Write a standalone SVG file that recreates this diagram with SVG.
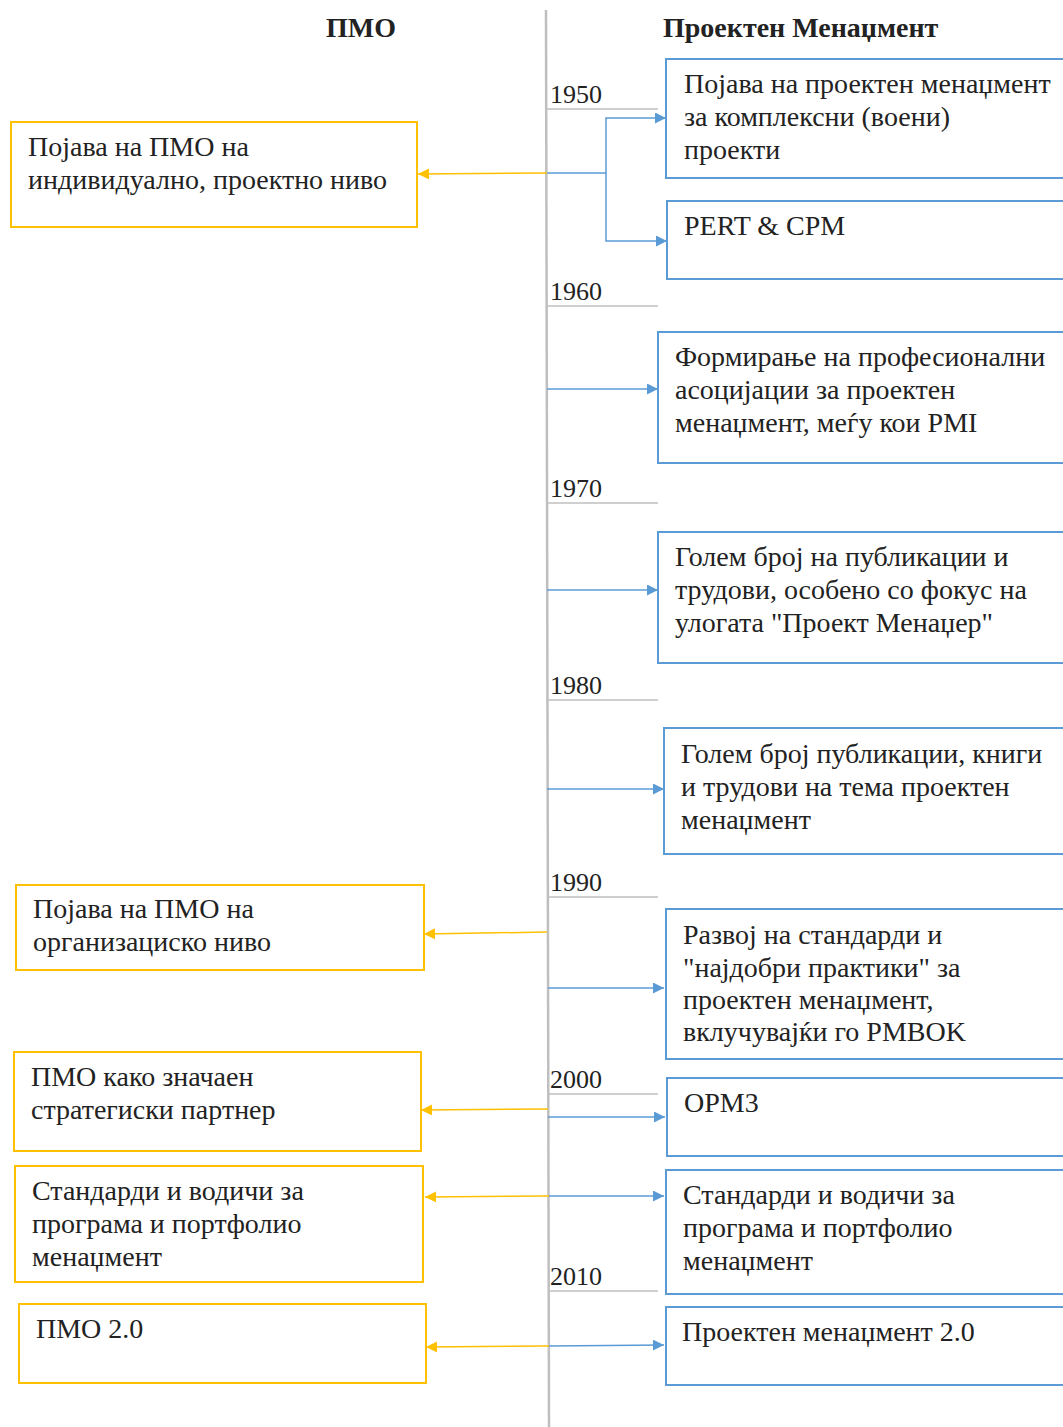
<svg xmlns="http://www.w3.org/2000/svg" width="1063" height="1427" viewBox="0 0 1063 1427">
<defs>
<marker id="ab" viewBox="0 0 10 10" refX="10" refY="5" markerWidth="11" markerHeight="11" markerUnits="userSpaceOnUse" orient="auto"><path d="M0,0 L10,5 L0,10 z" fill="#5b9bd5"/></marker>
<marker id="ay" viewBox="0 0 10 10" refX="10" refY="5" markerWidth="11" markerHeight="11" markerUnits="userSpaceOnUse" orient="auto"><path d="M0,0 L10,5 L0,10 z" fill="#ffc000"/></marker>
</defs>
<style>
text{font-family:"Liberation Serif","Times New Roman",serif;font-size:28px;fill:#222}
.h{font-weight:bold;font-size:28px}
.yr{font-size:26px}
.bb{fill:#fff;stroke:#5b9bd5;stroke-width:2}
.yb{fill:#fff;stroke:#ffc000;stroke-width:2}
.bl{stroke:#5b9bd5;stroke-width:1.5;fill:none;marker-end:url(#ab)}
.yl{stroke:#ffc000;stroke-width:1.5;fill:none;marker-end:url(#ay)}
.tk{stroke:#bfbfbf;stroke-width:1.5}
</style>
<rect width="1063" height="1427" fill="#fff"/>
<g id="timeline">
<line x1="546" y1="10" x2="549" y2="1427" stroke="#bfbfbf" stroke-width="2.5"/>
<line class="tk" x1="547" y1="109" x2="658" y2="109"/>
<line class="tk" x1="547" y1="306" x2="658" y2="306"/>
<line class="tk" x1="547" y1="503" x2="658" y2="503"/>
<line class="tk" x1="547" y1="700" x2="658" y2="700"/>
<line class="tk" x1="548" y1="897" x2="658" y2="897"/>
<line class="tk" x1="548" y1="1094" x2="658" y2="1094"/>
<line class="tk" x1="548" y1="1291" x2="658" y2="1291"/>
<text class="yr" x="550" y="103">1950</text>
<text class="yr" x="550" y="300">1960</text>
<text class="yr" x="550" y="497">1970</text>
<text class="yr" x="550" y="694">1980</text>
<text class="yr" x="550" y="891">1990</text>
<text class="yr" x="550" y="1088">2000</text>
<text class="yr" x="550" y="1285">2010</text>
</g>
<g id="headers">
<text class="h" x="361" y="37" text-anchor="middle">ПМО</text>
<text class="h" x="663" y="37">Проектен Менаџмент</text>
</g>
<g id="connectors">
<polyline class="bl" points="547,173 606,173 606,118 666,118"/>
<polyline class="bl" points="606,173 606,241 667,241"/>
<line class="yl" x1="547" y1="173" x2="418" y2="174"/>
<line class="bl" x1="547" y1="389" x2="658" y2="389"/>
<line class="bl" x1="547" y1="590" x2="658" y2="590"/>
<line class="bl" x1="547" y1="789" x2="664" y2="789"/>
<line class="yl" x1="547" y1="932" x2="424" y2="934"/>
<line class="bl" x1="548" y1="988" x2="664" y2="988"/>
<line class="yl" x1="548" y1="1109" x2="421" y2="1110"/>
<line class="bl" x1="548" y1="1117" x2="665" y2="1117"/>
<line class="yl" x1="549" y1="1196" x2="425" y2="1197"/>
<line class="bl" x1="549" y1="1196" x2="664" y2="1196"/>
<line class="yl" x1="549" y1="1346" x2="426" y2="1347"/>
<line class="bl" x1="549" y1="1346" x2="664" y2="1345"/>
</g>
<g id="r1"><rect class="bb" x="666" y="59" width="410" height="119"/>
<text x="684" y="93">Појава на проектен менаџмент</text><text x="684" y="126">за комплексни (воени)</text><text x="684" y="159">проекти</text></g>
<g id="r2"><rect class="bb" x="667" y="201" width="410" height="78"/>
<text x="684" y="235">PERT &amp; CPM</text></g>
<g id="r3"><rect class="bb" x="658" y="332" width="420" height="131"/>
<text x="675" y="366">Формирање на професионални</text><text x="675" y="399">асоцијации за проектен</text><text x="675" y="432">менаџмент, меѓу кои PMI</text></g>
<g id="r4"><rect class="bb" x="658" y="532" width="420" height="131"/>
<text x="675" y="566">Голем број на публикации и</text><text x="675" y="599">трудови, особено со фокус на</text><text x="675" y="632">улогата "Проект Менаџер"</text></g>
<g id="r5"><rect class="bb" x="664" y="728" width="420" height="126"/>
<text x="681" y="763">Голем број публикации, книги</text><text x="681" y="796">и трудови на тема проектен</text><text x="681" y="829">менаџмент</text></g>
<g id="r6"><rect class="bb" x="666" y="909" width="420" height="150"/>
<text x="683" y="944">Развој на стандарди и</text><text x="683" y="977">"најдобри практики" за</text><text x="683" y="1009">проектен менаџмент,</text><text x="683" y="1041">вклучувајќи го PMBOK</text></g>
<g id="r7"><rect class="bb" x="667" y="1078" width="420" height="78"/>
<text x="684" y="1112">OPM3</text></g>
<g id="r8"><rect class="bb" x="666" y="1170" width="420" height="124"/>
<text x="683" y="1204">Стандарди и водичи за</text><text x="683" y="1237">програма и портфолио</text><text x="683" y="1270">менаџмент</text></g>
<g id="r9"><rect class="bb" x="666" y="1307" width="420" height="78"/>
<text x="682" y="1341">Проектен менаџмент 2.0</text></g>
<g id="l1"><rect class="yb" x="11" y="122" width="406" height="105"/>
<text x="28" y="156">Појава на ПМО на</text><text x="28" y="189">индивидуално, проектно ниво</text></g>
<g id="l2"><rect class="yb" x="16" y="885" width="408" height="85"/>
<text x="33" y="918">Појава на ПМО на</text><text x="33" y="951">организациско ниво</text></g>
<g id="l3"><rect class="yb" x="14" y="1052" width="407" height="99"/>
<text x="31" y="1086">ПМО како значаен</text><text x="31" y="1119">стратегиски партнер</text></g>
<g id="l4"><rect class="yb" x="15" y="1166" width="408" height="116"/>
<text x="32" y="1200">Стандарди и водичи за</text><text x="32" y="1233">програма и портфолио</text><text x="32" y="1266">менаџмент</text></g>
<g id="l5"><rect class="yb" x="19" y="1304" width="407" height="79"/>
<text x="36" y="1338">ПМО 2.0</text></g>
</svg>
